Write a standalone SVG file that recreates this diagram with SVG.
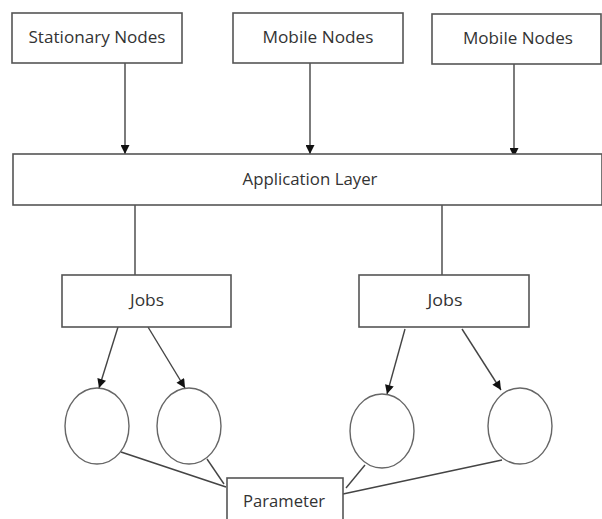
<svg xmlns="http://www.w3.org/2000/svg" width="602" height="519" viewBox="0 0 602 519">
<style>
.box{fill:#fff;stroke:#555;stroke-width:1.6}
.ell{fill:#fff;stroke:#666;stroke-width:1.4}
.lbl{font-family:"Open Sans","Liberation Sans",sans-serif;font-size:17px;fill:#333;text-anchor:middle}
.con{stroke:#444;stroke-width:1.4;fill:none}
</style>
<defs>
<marker id="ah" viewBox="0 0 10 10" refX="10" refY="5" markerWidth="10" markerHeight="9" markerUnits="userSpaceOnUse" orient="auto">
<path d="M0,0 L10,5 L0,10 z" fill="#111"/>
</marker>
</defs>
<rect width="602" height="519" fill="#fff"/>
<g id="connectors">
<line class="con" x1="125" y1="63" x2="125" y2="154" marker-end="url(#ah)"/>
<line class="con" x1="310" y1="63" x2="310" y2="154" marker-end="url(#ah)"/>
<line class="con" x1="514" y1="64" x2="514" y2="157" marker-end="url(#ah)"/>
<line class="con" x1="135" y1="205" x2="135" y2="275"/>
<line class="con" x1="442" y1="205" x2="442" y2="275"/>
<line class="con" x1="118" y1="327" x2="99" y2="388" marker-end="url(#ah)"/>
<line class="con" x1="148" y1="327" x2="185" y2="388" marker-end="url(#ah)"/>
<line class="con" x1="405" y1="329" x2="387" y2="394" marker-end="url(#ah)"/>
<line class="con" x1="462" y1="329" x2="501" y2="390" marker-end="url(#ah)"/>
<line class="con" x1="121" y1="452" x2="226" y2="487"/>
<line class="con" x1="207" y1="459" x2="224" y2="484"/>
<line class="con" x1="365" y1="465" x2="346" y2="488"/>
<line class="con" x1="502" y1="460" x2="343" y2="494"/>
</g>
<g id="stationary"><rect class="box" x="12" y="13" width="170" height="50"/><text class="lbl" x="97" y="43" textLength="137" lengthAdjust="spacingAndGlyphs">Stationary Nodes</text></g>
<g id="mobile1"><rect class="box" x="233" y="13" width="170" height="50"/><text class="lbl" x="318" y="43" textLength="111" lengthAdjust="spacingAndGlyphs">Mobile Nodes</text></g>
<g id="mobile2"><rect class="box" x="432" y="14" width="169" height="50"/><text class="lbl" x="518" y="44" textLength="110" lengthAdjust="spacingAndGlyphs">Mobile Nodes</text></g>
<g id="app"><rect class="box" x="13" y="154" width="589" height="51"/><text class="lbl" x="310" y="185" textLength="135" lengthAdjust="spacingAndGlyphs">Application Layer</text></g>
<g id="jobs1"><rect class="box" x="62" y="275" width="169" height="52"/><text class="lbl" x="147" y="306" textLength="34" lengthAdjust="spacingAndGlyphs">Jobs</text></g>
<g id="jobs2"><rect class="box" x="359" y="275" width="170" height="52"/><text class="lbl" x="445" y="306" textLength="35" lengthAdjust="spacingAndGlyphs">Jobs</text></g>
<g id="c1"><ellipse class="ell" cx="97" cy="426" rx="32" ry="38"/></g>
<g id="c2"><ellipse class="ell" cx="189" cy="426" rx="32" ry="38"/></g>
<g id="c3"><ellipse class="ell" cx="382" cy="431" rx="32" ry="37"/></g>
<g id="c4"><ellipse class="ell" cx="520" cy="426" rx="32" ry="38"/></g>
<g id="parameter"><rect class="box" x="227" y="478" width="116" height="50"/><text class="lbl" x="284" y="507" textLength="82" lengthAdjust="spacingAndGlyphs">Parameter</text></g>
</svg>
